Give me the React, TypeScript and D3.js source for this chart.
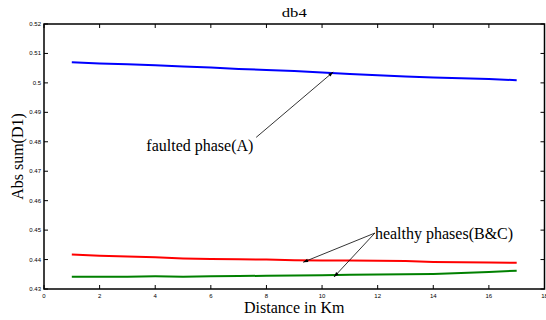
import * as d3 from 'd3'

const distance = [1, 2, 3, 4, 5, 6, 7, 8, 9, 10, 11, 12, 13, 14, 15, 16, 17]
const phaseA = [0.507, 0.5066, 0.5063, 0.506, 0.5056, 0.5052, 0.5047, 0.5044, 0.504, 0.5035, 0.503, 0.5026, 0.5022, 0.5018, 0.5016, 0.5013, 0.5009]
const phaseB = [0.4417, 0.4413, 0.441, 0.4408, 0.4404, 0.4402, 0.4401, 0.44, 0.4398, 0.4397, 0.4397, 0.4396, 0.4395, 0.4392, 0.4391, 0.439, 0.4389]
const phaseC = [0.4342, 0.4342, 0.4342, 0.4343, 0.4342, 0.4343, 0.4344, 0.4345, 0.4346, 0.4347, 0.4348, 0.4349, 0.435, 0.4351, 0.4354, 0.4358, 0.4362]
const xTicks = [0, 2, 4, 6, 8, 10, 12, 14, 16, 18]
const yTicks = [0.43, 0.44, 0.45, 0.46, 0.47, 0.48, 0.49, 0.5, 0.51, 0.52]

const series = [
  { name: 'A', values: phaseA, color: '#0000ff' },
  { name: 'B', values: phaseB, color: '#ff0000' },
  { name: 'C', values: phaseC, color: '#008000' },
]

// annotations in data units
const faultedLabel = { x: 3.68, y: 0.4769 }
const faultedArrow = { from: [7.63, 0.4815], to: [10.4, 0.5037] }
const healthyLabel = { x: 11.9, y: 0.447 }
const healthyArrows = [
  { from: [11.9, 0.449], to: [9.32, 0.4391] },
  { from: [11.9, 0.449], to: [10.43, 0.4341] },
]

export default function App() {
  const margin = { top: 24, right: 1.5, bottom: 31, left: 44 }
  const W = 546
  const H = 320
  const width = W - margin.left - margin.right
  const height = H - margin.top - margin.bottom

  const x = d3.scaleLinear().domain([0, 18]).range([0, width])
  const y = d3.scaleLinear().domain([0.43, 0.52]).range([height, 0])
  const line = d3
    .line<number>()
    .x((_, i) => x(distance[i]))
    .y((d) => y(d))

  const tickFont = { fontFamily: 'Liberation Sans, Arial, sans-serif', fontSize: 6 }
  const serif = 'Liberation Serif, Times New Roman, serif'
  const cx = margin.left + width / 2

  const arrow = (from: number[], to: number[], key: string) => (
    <line
      key={key}
      x1={x(from[0])}
      y1={y(from[1])}
      x2={x(to[0])}
      y2={y(to[1])}
      stroke="#000"
      strokeWidth={0.8}
      markerEnd="url(#head)"
    />
  )

  return (
    <svg width={W} height={H} style={{ position: 'absolute', left: 0, top: 0, background: '#fff' }}>
      <defs>
        <marker id="head" viewBox="0 0 10 10" refX={10} refY={5} markerWidth={7} markerHeight={5} orient="auto" markerUnits="userSpaceOnUse">
          <path d="M0,1.5 L10,5 L0,8.5 z" fill="#000" />
        </marker>
      </defs>
      <text x={cx} y={17} textAnchor="middle" fontFamily={serif} fontSize={12} textLength={25} lengthAdjust="spacingAndGlyphs">
        db4
      </text>
      <g transform={`translate(${margin.left}, ${margin.top})`}>
        {series.map((s) => (
          <path key={s.name} d={line(s.values) || ''} fill="none" stroke={s.color} strokeWidth={2} />
        ))}
        <rect x={0} y={0} width={width} height={height} fill="none" stroke="#000" strokeWidth={1.5} />
        {xTicks.map((t) => (
          <g key={`x${t}`}>
            <line x1={x(t)} x2={x(t)} y1={height} y2={height - 4} stroke="#000" strokeWidth={1} />
            <line x1={x(t)} x2={x(t)} y1={0} y2={4} stroke="#000" strokeWidth={1} />
            <text x={x(t)} y={height + 9} textAnchor="middle" {...tickFont}>
              {t}
            </text>
          </g>
        ))}
        {yTicks.map((t) => (
          <g key={`y${t}`}>
            <line x1={0} x2={4} y1={y(t)} y2={y(t)} stroke="#000" strokeWidth={1} />
            <line x1={width} x2={width - 4} y1={y(t)} y2={y(t)} stroke="#000" strokeWidth={1} />
            <text x={-3} y={y(t) + 2} textAnchor="end" {...tickFont}>
              {String(t)}
            </text>
          </g>
        ))}
        <text x={x(faultedLabel.x)} y={y(faultedLabel.y)} fontFamily={serif} fontSize={16}>
          faulted phase(A)
        </text>
        {arrow(faultedArrow.from, faultedArrow.to, 'fa')}
        <text x={x(healthyLabel.x)} y={y(healthyLabel.y)} fontFamily={serif} fontSize={16}>
          healthy phases(B&amp;C)
        </text>
        {healthyArrows.map((a, i) => arrow(a.from, a.to, `ha${i}`))}
      </g>
      <text x={cx} y={312.5} textAnchor="middle" fontFamily={serif} fontSize={16}>
        Distance in Km
      </text>
      <text transform={`translate(23, ${margin.top + height / 2}) rotate(-90)`} textAnchor="middle" fontFamily={serif} fontSize={16}>
        Abs sum(D1)
      </text>
    </svg>
  )
}
